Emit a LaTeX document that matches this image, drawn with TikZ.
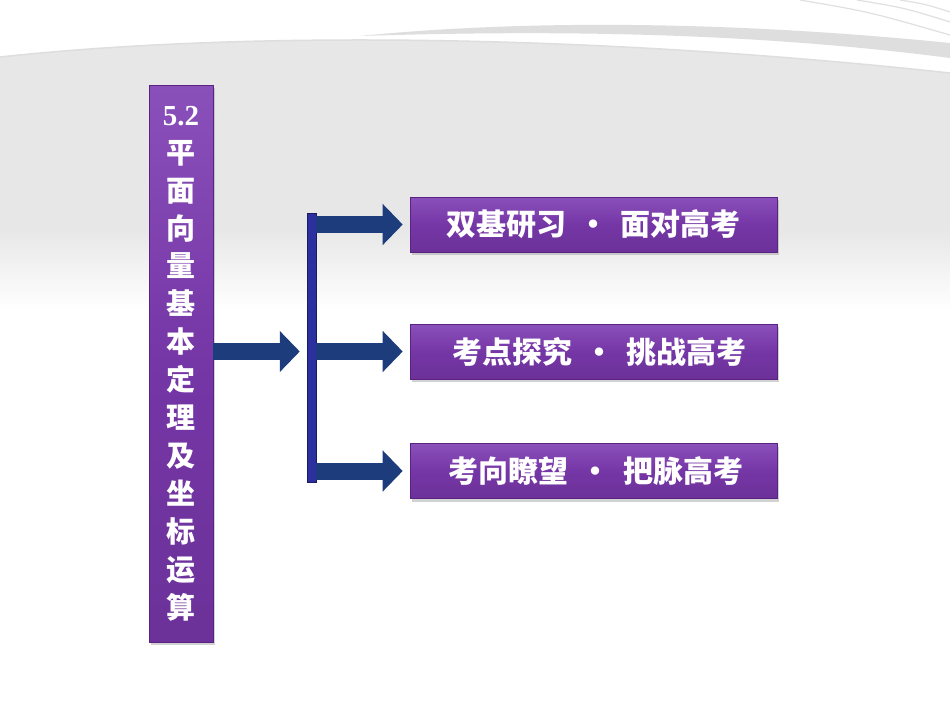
\documentclass[tikz,border=0pt]{standalone}
\usepackage{fontspec}
\newfontfamily\cjk{Noto Sans CJK SC}
\newfontfamily\numfont{Liberation Serif}
\usepackage{tikz}
\usetikzlibrary{positioning, shadows, arrows.meta}
\definecolor{bggray}{HTML}{E7E7E7}
\definecolor{bandgray}{HTML}{DEDEDE}
\definecolor{boxpurple}{HTML}{7536A6}
\definecolor{boxtop}{HTML}{8A50BA}
\definecolor{boxedge}{HTML}{5A2283}
\definecolor{arrownavy}{HTML}{1D3C7C}
\definecolor{barblue}{HTML}{2C2F9E}

\tikzset{
  purplebox/.style={draw=boxedge, line width=0.6pt, top color=boxtop, bottom color=boxpurple!92!black,
    middle color=boxpurple, text=white, inner sep=0pt,
    drop shadow={shadow xshift=2pt, shadow yshift=-3pt, opacity=.35}},
  titlebox/.style={purplebox, minimum width=64, minimum height=557, align=center,
    font=\cjk\bfseries\fontsize{29}{37.9}\selectfont},
  topicbox/.style={purplebox, minimum width=367, minimum height=55,
    font=\cjk\bfseries\fontsize{30}{36}\selectfont},
  fatarrow/.style={draw=arrownavy, line width=17pt, -{Triangle[length=20pt, width=40pt]}}
}
\newcommand{\middot}{\makebox[55pt]{·}}

\begin{document}
\begin{tikzpicture}[x=1pt, y=-1pt]
    \useasboundingbox (0,0) rectangle (950,713);
    % background
    \fill[white] (0,0) rectangle (950,713);
    \fill[bggray] (0,0) rectangle (950,230);
    \shade[top color=bggray, bottom color=white] (0,229) rectangle (950,310);
    \fill[white] (0,0) -- (0,57) .. controls (250,30) and (600,35) .. (950,73) -- (950,0) -- cycle;
    \draw[black!13, line width=1.5pt] (0,57) .. controls (250,30) and (600,35) .. (950,73);
    \fill[bandgray] (360,36) .. controls (500,22) and (700,18) .. (950,43) -- (950,58)
        .. controls (750,32) and (550,30) .. (360,36);
    \draw[black!12, line width=1.2pt] (800,0) .. controls (870,12) .. (950,35);
    \draw[black!12, line width=1.2pt] (857,0) .. controls (905,8) .. (950,22);
    \draw[black!12, line width=1.2pt] (900,0) .. controls (925,4) .. (950,12);

    \node (title) at (181,363.5) [titlebox] {{\numfont 5.2}\\平\\面\\向\\量\\基\\本\\定\\理\\及\\坐\\标\\运\\算};

    \node (b1) at (593.5,224.5) [topicbox] {双基研习\middot 面对高考};
    \node (b2) at (593.5,351.5) [topicbox] {\hspace{12pt}考点探究\middot 挑战高考};
    \node (b3) at (593.5,471) [topicbox] {\hspace{5pt}考向瞭望\middot 把脉高考};

    \node (bar) at (311.5,347.5) [minimum width=9, minimum height=269, inner sep=0pt,
        fill=barblue, draw=barblue!60!black, line width=0.5pt] {};

    \draw[fatarrow] (title.east |- b2) -- ([xshift=-7pt]bar.west |- b2);
    \draw[fatarrow] (bar.east |- b1) -- ([xshift=-7pt]b1.west);
    \draw[fatarrow] (bar.east |- b2) -- ([xshift=-7pt]b2.west);
    \draw[fatarrow] (bar.east |- b3) -- ([xshift=-7pt]b3.west);
\end{tikzpicture}
\end{document}
